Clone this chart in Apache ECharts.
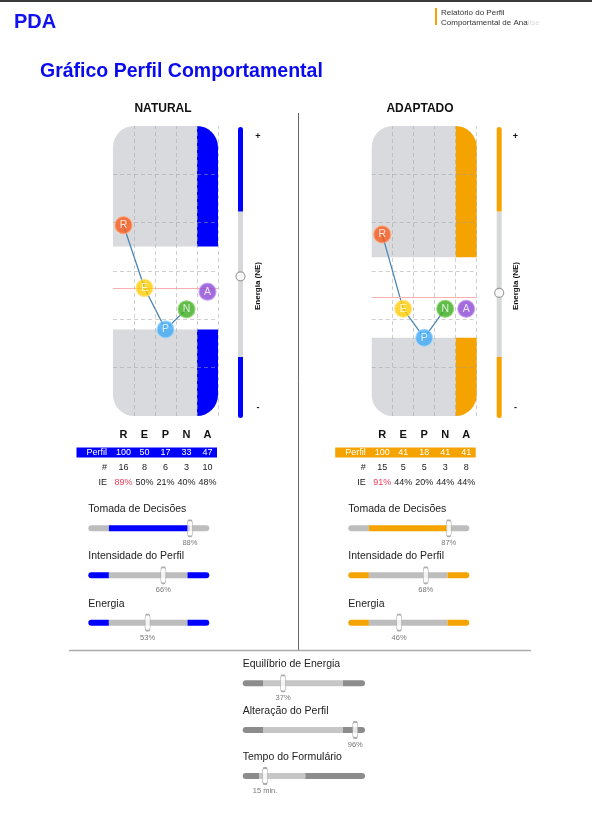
<!DOCTYPE html>
<html><head><meta charset="utf-8">
<script src="https://cdn.jsdelivr.net/npm/echarts@6/dist/echarts.min.js"></script>
<style>html,body{margin:0;padding:0;background:#fff}#c{width:592px;height:813px}</style>
</head><body><div id="c"></div><script>
// ---------- DATA ----------
const categories = ['R','E','P','N','A'];
const naturalPerfil = [100,50,17,33,47];
const adaptadoPerfil = [100,41,18,41,41];
const naturalCount = [16,8,6,3,10];
const adaptadoCount = [15,5,5,3,8];
const naturalIE = [89,50,21,40,48];
const adaptadoIE = [91,44,20,44,44];
const ieHighlight = 80;
const naturalZone = [17,83];
const adaptadoZone = [18,82];
const midLine = 50;
const naturalEnergyNE = 48.7;
const adaptadoEnergyNE = 43;
const energyBands = [21,71];
const tableRows = ['Perfil','#','IE'];
const sliderLabels = ['Tomada de Decisões','Intensidade do Perfil','Energia'];
const naturalSliders = [88,66,53];
const adaptadoSliders = [87,68,46];
const sliderBands = [21,86];
const bottomLabels = ['Equilíbrio de Energia','Alteração do Perfil','Tempo do Formulário'];
const equilibrioEnergia = 37;
const alteracaoPerfil = 96;
const tempoFormulario = 15;
const tempoBands = [11,42];
const gridCols = [1,2,3,4,5];
const gridRows = [1,2,3,4,5];

// ---------- STYLE ----------
const FONT = "'Liberation Sans', Arial, sans-serif";
const BLUE = '#0000ff', ORANGE = '#f5a300', PANEL_GRAY = '#d9dadd';
const pointColors = ['#f75a1c','#ffcc00','#3ca9f5','#3aab1c','#8b46d6'];
const pointBorders = ['#ffa26e','#ffe27a','#a0d6ff','#8fd76f','#c29cf0'];

const chart = echarts.init(document.getElementById('c'), null, {renderer:'canvas', width:592, height:813});
const grid=[], xAxis=[], yAxis=[], series=[], graphic=[];

function txt(x, y, text, font, fill, align, extra){
  graphic.push(Object.assign({type:'text', x, y, silent:true,
    style:{text, font, fill, align: align||'left', verticalAlign:'middle'}}, extra||{}));
}

function panel(left, perfil, zone, range, color){
  const g = grid.length; grid.push({left, top:126, width:105, height:290});
  const xc = xAxis.length; xAxis.push({gridIndex:g, type:'category', data:categories, show:false});
  const xv = xAxis.length; xAxis.push({gridIndex:g, type:'value', min:0, max:categories.length, show:false});
  const yv = yAxis.length; yAxis.push({gridIndex:g, type:'value', min:range[0], max:range[1], show:false});
  const yg = yAxis.length; yAxis.push({gridIndex:g, type:'value', min:0, max:6, show:false});
  series.push({type:'custom', xAxisIndex:xc, yAxisIndex:yv, z:1, silent:true,
    data:[[0,zone[1]],[0,zone[0]]],
    renderItem(params, api){
      const cs = params.coordSys; const v = api.value(1);
      const p0 = api.coord([0, v]); const bw = api.size([1,0])[0];
      const xL = p0[0] - bw/2; const xA = api.coord([categories.length-1, v])[0] - bw/2;
      const upper = params.dataIndex === 0; const R = 21;
      const y0 = upper ? cs.y : p0[1], y1 = upper ? p0[1] : cs.y + cs.height;
      return {type:'group', children:[
        {type:'rect', shape:{x:xL, y:y0, width:xA-xL, height:y1-y0, r: upper?[R,0,0,0]:[0,0,0,R]}, style:{fill:PANEL_GRAY}},
        {type:'rect', shape:{x:xA, y:y0, width:bw, height:y1-y0, r: upper?[0,R,0,0]:[0,0,R,0]}, style:{fill:color}}
      ]};
    }});
  series.push({type:'line', xAxisIndex:xv, yAxisIndex:yg, z:2, silent:true, data:[[0,0]], showSymbol:false, lineStyle:{opacity:0},
    markLine:{silent:true, symbol:'none', label:{show:false}, animation:false,
      lineStyle:{type:[4,3], color:'rgba(160,160,160,0.5)', width:1},
      data: gridCols.map(v=>({xAxis:v})).concat(gridRows.map(v=>({yAxis:v})))}});
  series.push({type:'line', xAxisIndex:xc, yAxisIndex:yv, z:3, silent:true, data:[], showSymbol:false,
    markLine:{silent:true, symbol:'none', label:{show:false}, animation:false,
      lineStyle:{type:'solid', color:'#f7b0b0', width:1}, data:[{yAxis:midLine}]}});
  series.push({type:'line', xAxisIndex:xc, yAxisIndex:yv, z:4, silent:true, data:perfil.slice(0,4),
    symbol:'none', lineStyle:{color:'#4b86b4', width:1.3}});
  series.push({type:'scatter', xAxisIndex:xc, yAxisIndex:yv, z:5, silent:true, symbolSize:17,
    data: perfil.map((v,i)=>({value:[i,v], itemStyle:{color:pointColors[i], borderColor:pointBorders[i], borderWidth:1.2}})),
    label:{show:true, position:'inside', formatter:p=>categories[p.dataIndex], color:'#fff', fontSize:10.5, fontFamily:FONT}});
}

function energyBar(left, value, color, textX){
  const g = grid.length; grid.push({left, top:127, width:5, height:291});
  const xi = xAxis.length; xAxis.push({gridIndex:g, type:'category', data:['NE'], show:false});
  const yi = yAxis.length; yAxis.push({gridIndex:g, type:'value', min:0, max:100, show:false});
  const segs = [energyBands[0], energyBands[1]-energyBands[0], 100-energyBands[1]];
  const cols = [color, '#d7d8da', color];
  const radii = [[0,0,3,3],[0,0,0,0],[3,3,0,0]];
  segs.forEach((s,i)=>series.push({type:'bar', xAxisIndex:xi, yAxisIndex:yi, stack:'ne'+g, barWidth:5, silent:true,
    data:[s], itemStyle:{color:cols[i], borderRadius:radii[i]}}));
  series.push({type:'scatter', xAxisIndex:xi, yAxisIndex:yi, z:5, silent:true, data:[[0,value]], symbol:'circle', symbolSize:9,
    itemStyle:{color:'#fff', borderColor:'#8a8a8a', borderWidth:1.2}});
  txt(textX, 137, '+', 'bold 9px '+FONT, '#111', 'center');
  txt(textX, 408, '-', 'bold 9px '+FONT, '#111', 'center');
  txt(textX, 286, 'Energia (NE)', 'bold 8px '+FONT, '#111', 'center', {rotation:Math.PI/2});
}

function table(left, perfil, counts, ie, color){
  const g = grid.length; grid.push({left, top:445, width:105, height:45});
  const xi = xAxis.length; xAxis.push({gridIndex:g, type:'category', data:categories, position:'top', z:6,
    axisLine:{show:false}, axisTick:{show:false}, splitLine:{show:false},
    axisLabel:{margin:5, fontSize:11, fontWeight:'bold', color:'#111', fontFamily:FONT}});
  const yi = yAxis.length; yAxis.push({gridIndex:g, type:'category', data:tableRows, inverse:true, z:6,
    axisLine:{show:false}, axisTick:{show:false}, splitLine:{show:false},
    axisLabel:{margin:6, fontSize:9, color:'#222', fontFamily:FONT,
      formatter:v=> v==='Perfil' ? '{w|'+v+'}' : v, rich:{w:{color:'#fff', fontSize:9, fontFamily:FONT}}}});
  series.push({type:'custom', xAxisIndex:xi, yAxisIndex:yi, z:1, silent:true, data:[[0,0]],
    renderItem(params, api){ const cs=params.coordSys; const yc=api.coord([0,0])[1];
      return {type:'rect', shape:{x:cs.x-36.5, y:yc-5, width:cs.width+35.5, height:10}, style:{fill:color}}; }});
  const texts = [perfil.map(String), counts.map(String), ie.map(v=>v+'%')];
  const cells=[]; categories.forEach((c,i)=>{ tableRows.forEach((r,j)=>cells.push([i,j])); });
  series.push({type:'custom', xAxisIndex:xi, yAxisIndex:yi, z:3, silent:true, data:cells,
    renderItem(params, api){ const col=api.value(0), row=api.value(1); const p=api.coord([col,row]);
      const red = row===2 && ie[col] >= ieHighlight;
      return {type:'text', x:p[0], y:p[1], style:{text:texts[row][col], fill: row===0?'#fff':(red?'#f23a5a':'#222'),
        font:'9px '+FONT, align:'center', verticalAlign:'middle'}}; }});
}

function slider(left, yc, width, min, max, segs, colors, value, label, title){
  const g = grid.length; grid.push({left, top:yc-8, width, height:16});
  const xi = xAxis.length; xAxis.push({gridIndex:g, type:'value', min, max, show:false});
  const yi = yAxis.length; yAxis.push({gridIndex:g, type:'category', data:['s'], show:false});
  series.push({type:'custom', xAxisIndex:xi, yAxisIndex:yi, z:2, silent:true,
    data: segs.map((s,i)=>[s[0], 0, s[1], i]),
    renderItem(params, api){
      const s0=api.value(0), s1=api.value(2), i=api.value(3);
      const a=api.coord([s0,0]), b=api.coord([s1,0]); const r=3;
      const rl = s0===min?r:0, rr = s1===max?r:0;
      return {type:'rect', shape:{x:a[0], y:a[1]-3, width:b[0]-a[0], height:6, r:[rl,rr,rr,rl]}, style:{fill:colors[i]}};
    }});
  series.push({type:'scatter', xAxisIndex:xi, yAxisIndex:yi, z:5, silent:true, data:[[value,0]],
    symbol:'roundRect', symbolSize:[5,16], itemStyle:{color:'#fff', borderColor:'#999', borderWidth:1},
    label:{show:true, position:'bottom', distance:2, formatter:label, fontSize:7.5, color:'#555', fontFamily:FONT}});
  txt(left, yc-19, title, '10.5px '+FONT, '#222', 'left');
}

// ---------- BUILD ----------
panel(113, naturalPerfil, naturalZone, [-52,179], BLUE);
panel(371.7, adaptadoPerfil, adaptadoZone, [-44,186], ORANGE);
energyBar(238, naturalEnergyNE, BLUE, 258);
energyBar(496.7, adaptadoEnergyNE, ORANGE, 515.5);
table(113, naturalPerfil, naturalCount, naturalIE, BLUE);
table(371.7, adaptadoPerfil, adaptadoCount, adaptadoIE, ORANGE);

const SMIN = 4, SMAX = 104;
function sideSliders(left, vals, color){
  const ys = [528.3, 575.3, 622.7];
  vals.forEach((v,k)=>{
    let segs, cols;
    if (k===0){ segs=[[SMIN,sliderBands[0]],[sliderBands[0],v],[v,SMAX]]; cols=['#bdbdbd',color,'#bdbdbd']; }
    else { segs=[[SMIN,sliderBands[0]],[sliderBands[0],sliderBands[1]],[sliderBands[1],SMAX]]; cols=[color,'#bdbdbd',color]; }
    slider(left, ys[k], 121, SMIN, SMAX, segs, cols, v, v+'%', sliderLabels[k]);
  });
}
sideSliders(88.3, naturalSliders, BLUE);
sideSliders(348.3, adaptadoSliders, ORANGE);

const DARK='#8c8c8c', LIGHT='#c6c6c6';
const bSegs=[[SMIN,sliderBands[0]],[sliderBands[0],sliderBands[1]],[sliderBands[1],SMAX]];
slider(242.7, 683.3, 122.3, SMIN, SMAX, bSegs, [DARK,LIGHT,DARK], equilibrioEnergia, equilibrioEnergia+'%', bottomLabels[0]);
slider(242.7, 730, 122.3, SMIN, SMAX, bSegs, [DARK,LIGHT,DARK], alteracaoPerfil, alteracaoPerfil+'%', bottomLabels[1]);
slider(242.7, 776, 122.3, 0, 82, [[0,tempoBands[0]],[tempoBands[0],tempoBands[1]],[tempoBands[1],82]], [DARK,LIGHT,DARK], tempoFormulario, tempoFormulario+' min.', bottomLabels[2]);

// ---------- DECORATION / TEXT ----------
graphic.push({type:'rect', silent:true, shape:{x:0,y:0,width:592,height:2}, style:{fill:'#3a3a3a'}});
graphic.push({type:'rect', silent:true, shape:{x:435,y:8,width:2,height:17}, style:{fill:ORANGE}});
txt(14, 22, 'PDA', 'bold 20px '+FONT, '#1212ee', 'left');
txt(441, 12.5, 'Relatório do Perfil', '8px '+FONT, '#333', 'left');
graphic.push({type:'text', x:441, y:23, silent:true, style:{text:'{a|Comportamental de Ana}{b|lise}', verticalAlign:'middle',
  rich:{a:{font:'8px '+FONT, fill:'#333'}, b:{font:'8px '+FONT, fill:'#dcdcdc'}}}});
txt(40, 72, 'Gráfico Perfil Comportamental', 'bold 19.5px '+FONT, '#0a0aee', 'left');
txt(163, 109, 'NATURAL', 'bold 12px '+FONT, '#111', 'center');
txt(420, 109, 'ADAPTADO', 'bold 12px '+FONT, '#111', 'center');
graphic.push({type:'line', silent:true, shape:{x1:298.5,y1:113,x2:298.5,y2:650}, style:{stroke:'#666', lineWidth:1}});
graphic.push({type:'line', silent:true, shape:{x1:69,y1:650.5,x2:531,y2:650.5}, style:{stroke:'#aaa', lineWidth:1.5}});

chart.setOption({animation:false, backgroundColor:'#fff', grid, xAxis, yAxis, series, graphic});
</script></body></html>
